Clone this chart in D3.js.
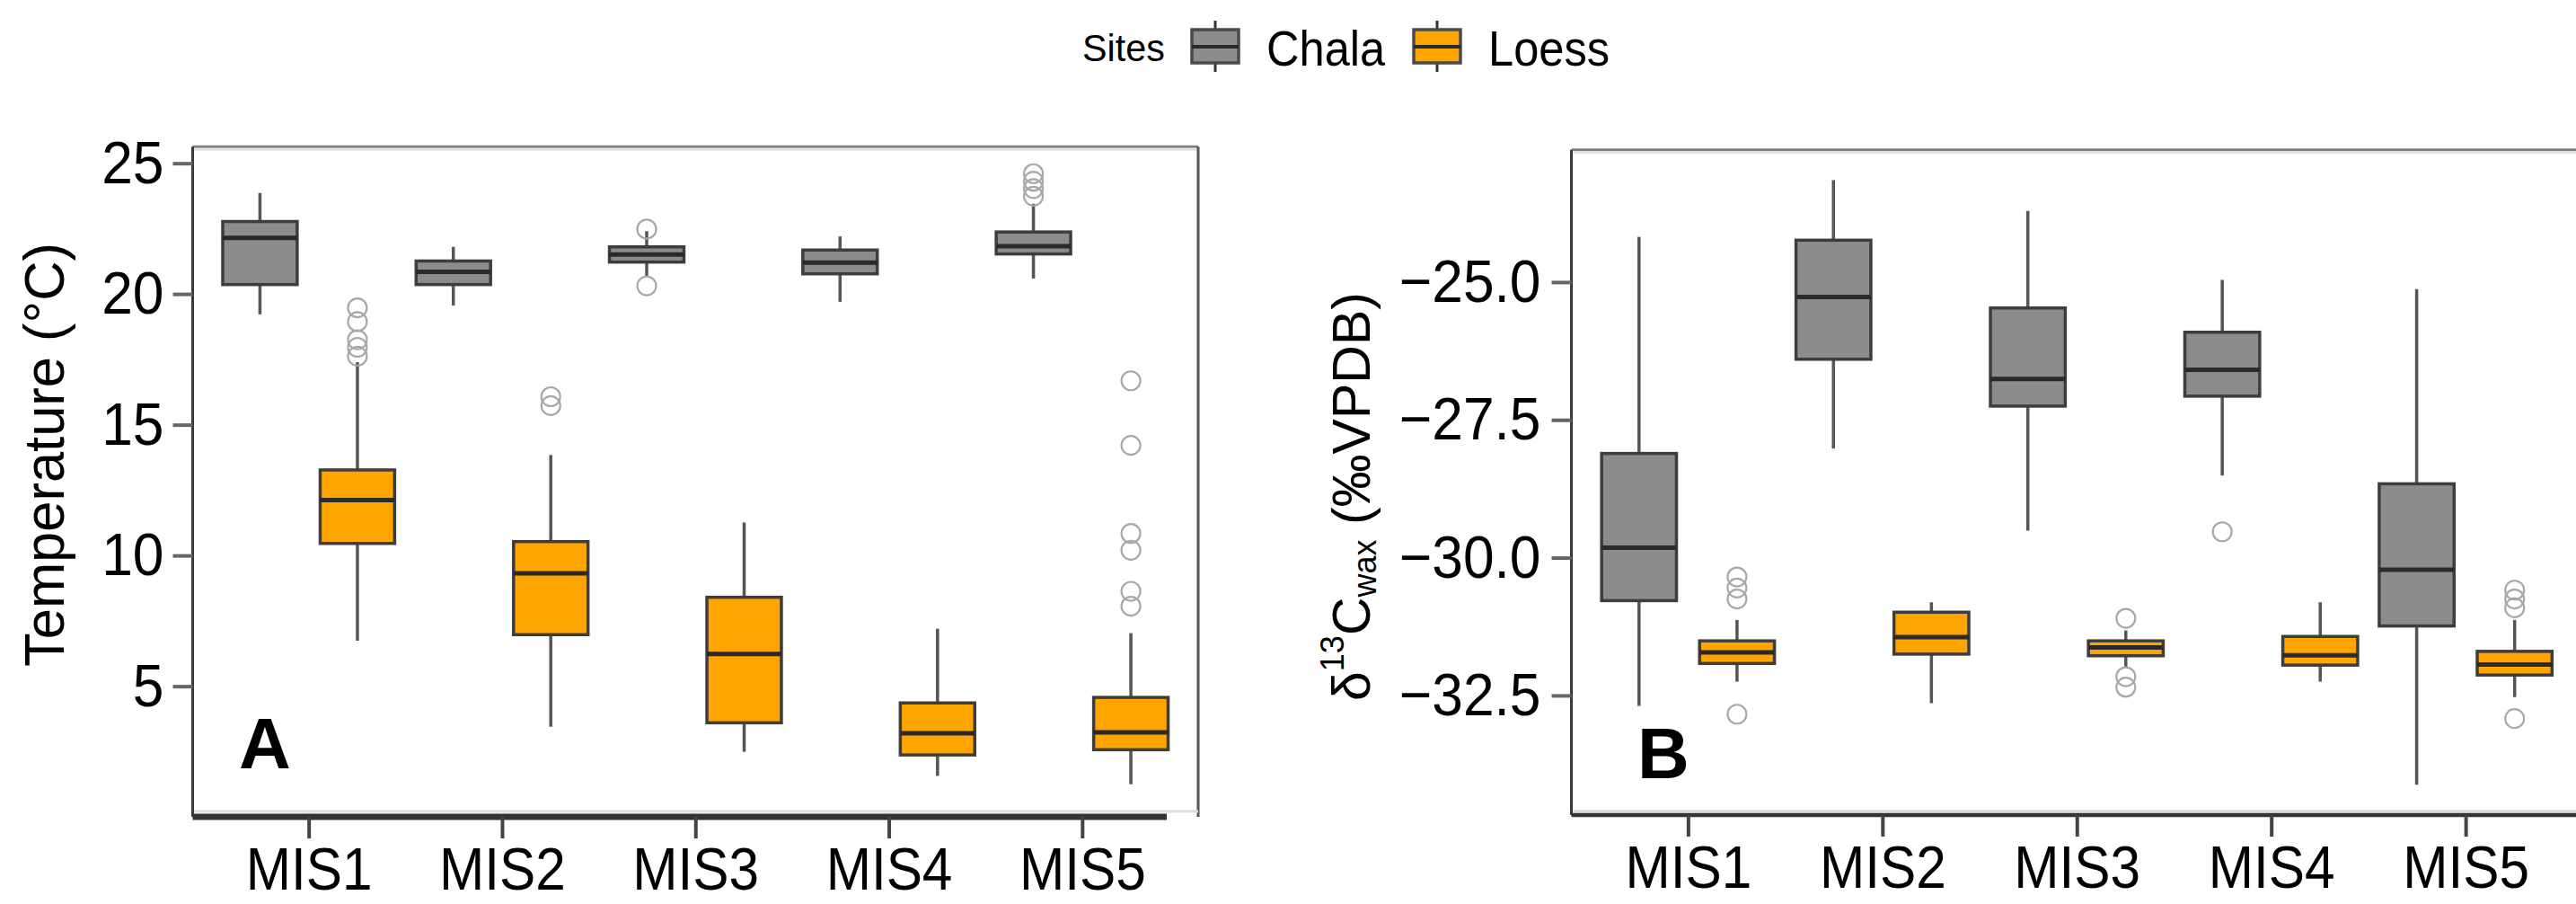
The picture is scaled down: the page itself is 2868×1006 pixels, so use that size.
<!DOCTYPE html>
<html><head><meta charset="utf-8">
<script src="https://cdn.jsdelivr.net/npm/d3@7"></script>
<style>html,body{margin:0;padding:0;background:#fff}svg{display:block}text{font-family:"Liberation Sans",Arial,sans-serif}</style>
</head><body>
<svg id="chart" width="2868" height="1006"></svg>
<script>
const categories = ["MIS1","MIS2","MIS3","MIS4","MIS5"];
const sites = ["Chala","Loess"];
const siteColors = ["#8c8c8c","#FFA500"];
// [lower whisker, Q1, median, Q3, upper whisker]
const tempChala = [[19.22,20.36,22.14,22.77,23.86],[19.56,20.36,20.85,21.26,21.80],[20.65,21.22,21.51,21.80,22.40],[19.70,20.77,21.20,21.68,22.20],[20.59,21.53,21.83,22.37,23.45]];
const tempChalaOut = [[],[],[20.31,22.48],[],[23.74,24.03,24.31,24.60]];
const tempLoess = [[6.74,10.46,12.12,13.27,17.39],[3.45,6.97,9.32,10.53,13.84],[2.49,3.60,6.23,8.40,11.26],[1.57,2.37,3.20,4.36,7.20],[1.25,2.57,3.23,4.57,7.03]];
const tempLoessOut = [[17.62,17.96,18.25,18.94,19.47],[15.73,16.07],[],[],[8.06,8.63,10.20,10.84,14.21,16.68]];
const d13cChala = [[-32.69,-30.78,-29.82,-28.11,-24.18],[-28.02,-26.40,-25.27,-24.24,-23.15],[-29.51,-27.25,-26.76,-25.47,-23.71],[-28.51,-27.07,-26.59,-25.91,-24.96],[-34.12,-31.24,-30.22,-28.66,-25.13]];
const d13cChalaOut = [[],[],[],[-29.53],[]];
const d13cLoess = [[-32.25,-31.92,-31.72,-31.51,-31.13],[-32.64,-31.75,-31.44,-30.99,-30.81],[-32.00,-31.78,-31.63,-31.51,-31.32],[-32.25,-31.95,-31.77,-31.43,-30.81],[-32.53,-32.13,-31.94,-31.70,-31.13]];
const d13cLoessOut = [[-32.84,-30.75,-30.55,-30.35],[],[-32.35,-32.16,-31.10],[],[-32.92,-30.91,-30.75,-30.59]];
const tempTicks = [5,10,15,20,25];
const d13cTicks = [-32.5,-30.0,-27.5,-25.0];
const tempDomain = [0.21,25.63];
const d13cDomain = [-34.60,-22.60];

const svg = d3.select("#chart");
function squeeze(sel,f){ sel.each(function(){ const L=this.getComputedTextLength(); d3.select(this).attr("textLength",L*f).attr("lengthAdjust","spacingAndGlyphs"); }); }

function panel(o){
  const g = svg.append("g");
  const x = d3.scalePoint().domain(categories).range([o.left,o.right]).padding(0.6);
  const y = d3.scaleLinear().domain(o.domain).range([o.bottom,o.top]);
  const step = x.step(), off = 0.252*step, bw = 0.385*step;
  g.append("line").attr("x1",o.left).attr("x2",o.frameRight).attr("y1",o.top).attr("y2",o.top).attr("stroke","#7f7f7f").attr("stroke-width",3);
  g.append("line").attr("x1",o.left).attr("x2",o.frameRight).attr("y1",o.top+3).attr("y2",o.top+3).attr("stroke","#e2e2e2").attr("stroke-width",3);
  if(o.showRight) g.append("line").attr("x1",o.right).attr("x2",o.right).attr("y1",o.top).attr("y2",o.axisY).attr("stroke","#555").attr("stroke-width",3);
  g.append("line").attr("x1",o.left).attr("x2",o.frameRight).attr("y1",o.bottom).attr("y2",o.bottom).attr("stroke","#dcdcdc").attr("stroke-width",3);
  g.append("line").attr("x1",o.left).attr("x2",o.left).attr("y1",o.top).attr("y2",o.axisY).attr("stroke","#3a3a3a").attr("stroke-width",3);
  g.append("line").attr("x1",o.left).attr("x2",o.axisEnd).attr("y1",o.axisY).attr("y2",o.axisY).attr("stroke","#333").attr("stroke-width",o.axisW);
  const ya = g.append("g").attr("transform",`translate(${o.left},0)`)
    .call(d3.axisLeft(y).tickValues(o.ticks).tickFormat(o.fmt).tickSize(22).tickPadding(o.tpad));
  ya.select(".domain").remove();
  ya.selectAll(".tick line").attr("stroke","#666").attr("stroke-width",4);
  ya.selectAll("text").attr("font-size",67).attr("fill","#000").attr("font-family","Liberation Sans, Arial, sans-serif");
  squeeze(ya.selectAll("text"),0.93);
  const xa = g.append("g").attr("transform",`translate(0,${o.axisY})`)
    .call(d3.axisBottom(x).tickSize(24).tickPadding(9));
  xa.select(".domain").remove();
  xa.selectAll(".tick line").attr("stroke","#444").attr("stroke-width",4);
  xa.selectAll("text").attr("font-size",67).attr("fill","#000").attr("font-family","Liberation Sans, Arial, sans-serif");
  squeeze(xa.selectAll("text"),0.9);
  o.series.forEach((s,si)=>{
    const dx = si===0?-off:off;
    const data = categories.map((c,i)=>({c, st:s.stats[i], out:s.out[i]}));
    const bg = g.append("g");
    const b = bg.selectAll("g").data(data).join("g").attr("transform",d=>`translate(${x(d.c)+dx},0)`);
    b.append("line").attr("y1",d=>y(d.st[0])).attr("y2",d=>y(d.st[1])).attr("stroke","#555").attr("stroke-width",3.5);
    b.append("line").attr("y1",d=>y(d.st[3])).attr("y2",d=>y(d.st[4])).attr("stroke","#555").attr("stroke-width",3.5);
    b.append("rect").attr("x",-bw/2).attr("width",bw).attr("y",d=>y(d.st[3])).attr("height",d=>y(d.st[1])-y(d.st[3]))
      .attr("fill",s.color).attr("stroke","#3d3d3d").attr("stroke-width",3.5);
    b.append("line").attr("x1",-bw/2).attr("x2",bw/2).attr("y1",d=>y(d.st[2])).attr("y2",d=>y(d.st[2])).attr("stroke","#2a2a2a").attr("stroke-width",5);
    b.selectAll("circle").data(d=>d.out).join("circle").attr("cx",0).attr("cy",v=>y(v)).attr("r",10.5)
      .attr("fill","none").attr("stroke","#a8a8a8").attr("stroke-width",2.2);
  });
  g.append("text").attr("x",o.labX).attr("y",o.labY).attr("text-anchor","middle").attr("font-size",80).attr("font-weight","bold").text(o.label);
  return g;
}

panel({left:214.5,right:1334,frameRight:1334,showRight:true,top:163.3,bottom:903,axisY:909,axisEnd:1299,axisW:7,
  domain:tempDomain,ticks:tempTicks,fmt:d3.format("d"),tpad:10,label:"A",labX:295,labY:855,
  series:[{stats:tempChala,out:tempChalaOut,color:siteColors[0]},{stats:tempLoess,out:tempLoessOut,color:siteColors[1]}]});
panel({left:1749.5,right:2875,frameRight:2868,showRight:false,top:166.7,bottom:902.7,axisY:907,axisEnd:2868,axisW:4.5,
  domain:d13cDomain,ticks:d13cTicks,fmt:d3.format(".1f"),tpad:12,label:"B",labX:1852,labY:866,
  series:[{stats:d13cChala,out:d13cChalaOut,color:siteColors[0]},{stats:d13cLoess,out:d13cLoessOut,color:siteColors[1]}]});

svg.append("text").attr("transform","translate(71,506) rotate(-90)").attr("text-anchor","middle")
  .attr("font-size",63).attr("textLength",472).attr("lengthAdjust","spacingAndGlyphs").text("Temperature (°C)");
const tb = svg.append("text").attr("transform","translate(1525,780) rotate(-90)").attr("text-anchor","start").attr("font-size",59);
tb.append("tspan").text("δ");
tb.append("tspan").attr("font-size",36).attr("dy",-29).text("13");
tb.append("tspan").attr("dy",29).text("C");
tb.append("tspan").attr("font-size",36).attr("dy",7).text("wax");
tb.append("tspan").attr("dy",-7).text(" (‰VPDB)");

const lg = svg.append("g");
const st = lg.append("text").attr("x",1205).attr("y",68).attr("font-size",43).text("Sites");
squeeze(st,0.96);
const keyX = [1327,1574], txtX = [1410,1657];
sites.forEach((s,i)=>{
  lg.append("line").attr("x1",keyX[i]+26).attr("x2",keyX[i]+26).attr("y1",23).attr("y2",80).attr("stroke","#333").attr("stroke-width",3);
  lg.append("rect").attr("x",keyX[i]).attr("y",33).attr("width",52).attr("height",37).attr("fill",siteColors[i]).attr("stroke","#4a4a4a").attr("stroke-width",3.5);
  lg.append("line").attr("x1",keyX[i]).attr("x2",keyX[i]+52).attr("y1",52).attr("y2",52).attr("stroke","#2a2a2a").attr("stroke-width",4);
  const t = lg.append("text").attr("x",txtX[i]).attr("y",73).attr("font-size",55).text(s);
  squeeze(t,0.92);
});
</script>
</body></html>
